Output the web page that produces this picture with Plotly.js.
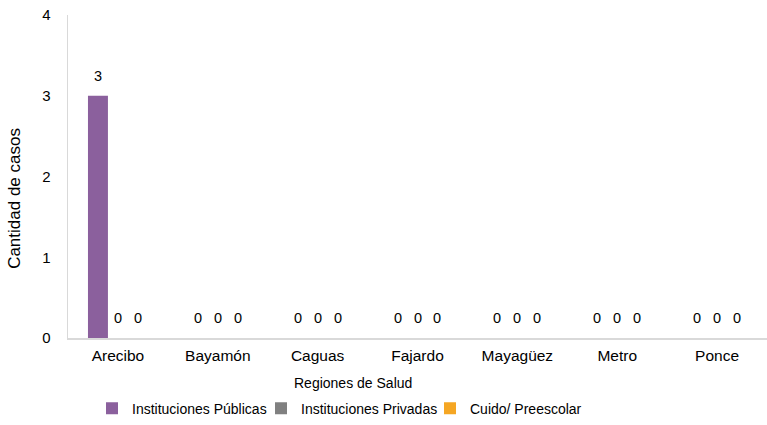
<!DOCTYPE html>
<html>
<head>
<meta charset="utf-8">
<script src="https://cdn.plot.ly/plotly-3.0.1.min.js"></script>
<style>html,body{margin:0;padding:0;background:#fff;}#chart{width:767px;height:425px;}</style>
</head>
<body>
<div id="chart"></div>
<script>
const regiones = ["Arecibo", "Bayamón", "Caguas", "Fajardo", "Mayagüez", "Metro", "Ponce"];
const serieNombres = ["Instituciones Públicas", "Instituciones Privadas", "Cuido/ Preescolar"];
const publicas = [3, 0, 0, 0, 0, 0, 0];
const privadas = [0, 0, 0, 0, 0, 0, 0];
const cuido = [0, 0, 0, 0, 0, 0, 0];
const colores = ["#8B609D", "#808080", "#F5A623"];
const yTicks = [0, 1, 2, 3, 4];

const W = 767, H = 425;
const margin = {l: 68, r: 0, t: 15, b: 85};
const bargap = 0.4;
const series = [publicas, privadas, cuido];
const font = "Liberation Sans, Arial, sans-serif";

const traces = series.map((vals, s) => ({
  type: "bar",
  name: serieNombres[s],
  x: regiones,
  y: vals,
  marker: {color: colores[s]},
  hoverinfo: "skip"
}));

const plotW = W - margin.l - margin.r;
const plotH = H - margin.t - margin.b;
const bw = plotW / regiones.length * (1 - bargap) / series.length;

const annotations = [];
series.forEach((vals, s) => {
  vals.forEach((v, i) => {
    annotations.push({
      x: regiones[i], y: v, xref: "x", yref: "y",
      text: String(v), showarrow: false,
      xshift: (s - (series.length - 1) / 2) * bw,
      yshift: 20, yanchor: "middle",
      font: {family: font, size: 14.5, color: "#000"}
    });
  });
});
annotations.push({
  xref: "paper", yref: "paper", x: (353 - margin.l) / plotW, y: -45 / plotH,
  text: "Regiones de Salud", showarrow: false, xanchor: "center", yanchor: "middle",
  font: {family: font, size: 14, color: "#000"}
});
annotations.push({
  xref: "paper", yref: "paper", x: (15 - margin.l) / plotW, y: (340 - 200) / plotH,
  text: "Cantidad de casos", showarrow: false, textangle: -90, xanchor: "center", yanchor: "middle",
  font: {family: font, size: 17, color: "#000"}
});

const layout = {
  width: W, height: H,
  margin: margin,
  paper_bgcolor: "#fff", plot_bgcolor: "#fff",
  barmode: "group", bargap: bargap, bargroupgap: 0,
  font: {family: font, size: 14, color: "#000"},
  xaxis: {
    type: "category", showgrid: false, zeroline: false, automargin: false,
    showline: true, linecolor: "#d9d9d9", linewidth: 1.5,
    ticks: "outside", ticklen: 3, tickcolor: "rgba(0,0,0,0)",
    tickfont: {family: font, size: 15.5, color: "#000"}
  },
  yaxis: {
    range: [0, 4], tickvals: yTicks, ticktext: yTicks.map(String),
    showgrid: false, zeroline: false, automargin: false,
    showline: true, linecolor: "#d9d9d9", linewidth: 1.5,
    ticks: "outside", ticklen: 13, tickcolor: "rgba(0,0,0,0)",
    tickfont: {family: font, size: 15, color: "#000"}
  },
  showlegend: true,
  legend: {
    orientation: "h", x: (92 - margin.l) / plotW, xanchor: "left",
    y: -71 / plotH, yanchor: "middle",
    font: {family: font, size: 14, color: "#000"},
    itemwidth: 30, entrywidth: 124, traceorder: "normal"
  },
  annotations: annotations
};

Plotly.newPlot("chart", traces, layout, {displayModeBar: false, staticPlot: true});
</script>
</body>
</html>
